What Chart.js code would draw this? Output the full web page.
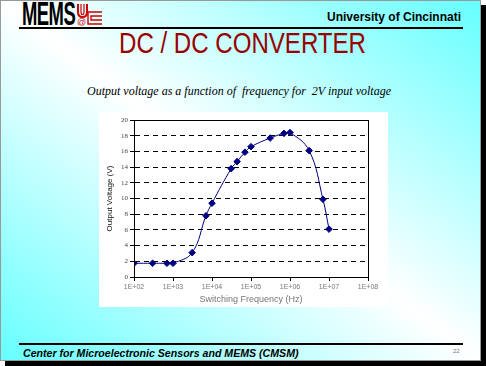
<!DOCTYPE html>
<html>
<head>
<meta charset="utf-8">
<script src="https://cdn.jsdelivr.net/npm/chart.js@4"></script>
<style>
  html, body { margin: 0; padding: 0; width: 486px; height: 366px; overflow: hidden; background: #fff; }
  #slide {
    position: absolute; left: 0; top: 0; width: 479px; height: 359px;
    border: 1px solid #999;
    background: linear-gradient(to top right, #66ffff 0%, #ffffff 50%, #66ffff 100%);
    box-shadow: 5px 5px 0 #000;
    font-family: "Liberation Sans", Arial, sans-serif;
  }
  .abs { position: absolute; white-space: pre; }
  #mems { left: 21px; top: -4px; font: bold 33px/33px "Liberation Sans", sans-serif; color: #000; transform: scaleX(0.56); transform-origin: left top; letter-spacing: -1px; }
  #univ { right: 19px; top: 9px; font: bold 12px/14px "Liberation Sans", Arial, sans-serif; color: #000; }
  .rule { position: absolute; left: 18px; width: 444px; background: #000; }
  #title { left: 1px; width: 481px; text-align: center; top: 28px; font: 29px/29px "Liberation Sans", sans-serif; color: #990000; transform: scaleX(0.83); transform-origin: center top; }
  #subtitle { left: 0; width: 476px; text-align: center; top: 83px; font: italic 12px/14px "Liberation Serif", "Times New Roman", serif; color: #000; }
  #chartBox { position: absolute; left: 98px; top: 111px; width: 289px; height: 195px; background: #fff; }
  #footer { left: 22px; top: 346px; font: bold italic 10.6px/12px "Liberation Sans", Arial, sans-serif; color: #000; }
  #page { left: 452px; top: 346px; font: 6px/8px "Liberation Sans", Arial, sans-serif; color: #777; }
</style>
</head>
<body>
<div id="slide">
  <div class="abs" id="mems">MEMS</div>
  <svg class="abs" style="left:75px;top:2px" width="28" height="24" viewBox="0 0 28 24">
    <path d="M2 1 V9 Q2 14 6.5 14 Q11 14 11 9 V1" fill="none" stroke="#cc0000" stroke-width="2"/>
    <path d="M5 1 V9 Q5 11.5 6.5 11.5 Q8 11.5 8 9 V1" fill="none" stroke="#cc0000" stroke-width="1.2"/>
    <path d="M26 9 H12 V21 H26 M26 13 H15 V17 H26" fill="none" stroke="#cc0000" stroke-width="1.4"/>
    <text x="1" y="22" font-family="Liberation Sans, sans-serif" font-size="9" fill="#cc0000">@</text>
  </svg>
  <div class="abs" id="univ">University of Cincinnati</div>
  <div class="rule" style="top:26px;height:2px"></div>
  <div class="abs" id="title">DC / DC CONVERTER</div>
  <div class="abs" id="subtitle">Output voltage as a function of  frequency for  2V input voltage</div>
  <div id="chartBox"><canvas id="chart" width="289" height="195"></canvas></div>
  <div class="rule" style="top:342px;height:2px"></div>
  <div class="abs" id="footer">Center for Microelectronic Sensors and MEMS (CMSM)</div>
  <div class="abs" id="page">22</div>
</div>
<script>
// switching frequency (Hz) and measured output voltage (V)
const frequency = [100, 300, 700, 1000, 3100, 7000, 10000, 31000, 44000, 70000, 100000, 310000, 700000, 1000000, 3100000, 7000000, 10000000];
const outputVoltage = [1.75, 1.75, 1.75, 1.75, 3.1, 7.8, 9.4, 13.8, 14.7, 15.9, 16.6, 17.7, 18.3, 18.4, 16.1, 9.9, 6.1];

const xTickValues = [1e2, 1e3, 1e4, 1e5, 1e6, 1e7, 1e8];
const xTickLabels = ['1E+02', '1E+03', '1E+04', '1E+05', '1E+06', '1E+07', '1E+08'];
const yMin = 0, yMax = 20, yStep = 2;

const points = frequency.map((f, i) => ({ x: f, y: outputVoltage[i] }));

// box around the plot area
const frameBox = {
  id: 'frameBox',
  afterDraw(chart) {
    const a = chart.chartArea;
    const ctx = chart.ctx;
    ctx.save();
    ctx.strokeStyle = '#000';
    ctx.lineWidth = 1;
    ctx.strokeRect(Math.round(a.left) + 0.5, Math.round(a.top) + 0.5, Math.round(a.right - a.left), Math.round(a.bottom - a.top));
    ctx.restore();
  }
};

const ctx = document.getElementById('chart').getContext('2d');
const chart = new Chart(ctx, {
  type: 'line',
  data: {
    datasets: [{
      data: points,
      borderColor: '#000080',
      borderWidth: 1,
      backgroundColor: '#000080',
      pointStyle: 'rectRot',
      pointRadius: 3.3,
      pointBackgroundColor: '#000080',
      pointBorderColor: '#000080',
      tension: 0.4,
      fill: false
    }]
  },
  options: {
    responsive: false,
    animation: false,
    devicePixelRatio: 1,
    layout: { padding: { left: 0, right: 20, top: 8, bottom: 0 } },
    plugins: { legend: { display: false }, tooltip: { enabled: false } },
    scales: {
      x: {
        type: 'logarithmic',
        min: xTickValues[0],
        max: xTickValues[xTickValues.length - 1],
        afterBuildTicks: (scale) => { scale.ticks = xTickValues.map(v => ({ value: v })); },
        afterFit: (scale) => { scale.height = 30; },
        ticks: {
          autoSkip: false,
          maxRotation: 0,
          padding: 2,
          color: '#777',
          font: { family: 'Liberation Sans', size: 7 },
          callback: (v) => xTickLabels[xTickValues.indexOf(v)]
        },
        grid: { drawOnChartArea: false, drawTicks: true, tickLength: 4, tickColor: '#000' },
        border: { color: '#000', width: 1 },
        title: {
          display: true,
          text: 'Switching Frequency (Hz)',
          color: '#777',
          font: { family: 'Liberation Sans', size: 9 },
          padding: { top: 0, bottom: 2 }
        }
      },
      y: {
        min: yMin,
        max: yMax,
        afterFit: (scale) => { scale.width = 35; },
        ticks: {
          stepSize: yStep,
          padding: 2,
          color: '#444',
          font: { family: 'Liberation Serif', size: 7 }
        },
        grid: {
          color: (c) => (c.tick && (c.tick.value === yMin || c.tick.value === yMax)) ? 'rgba(0,0,0,0)' : '#000',
          lineWidth: 1,
          tickLength: 4,
          tickColor: '#000',
          tickBorderDash: []
        },
        border: { color: '#000', width: 1, dash: [5, 4] },
        title: {
          display: true,
          text: 'Output Voltage (V)',
          color: '#111',
          font: { family: 'Liberation Sans', size: 8 },
          padding: { top: 6, bottom: 0 }
        }
      }
    }
  },
  plugins: [frameBox]
});
</script>
</body>
</html>
